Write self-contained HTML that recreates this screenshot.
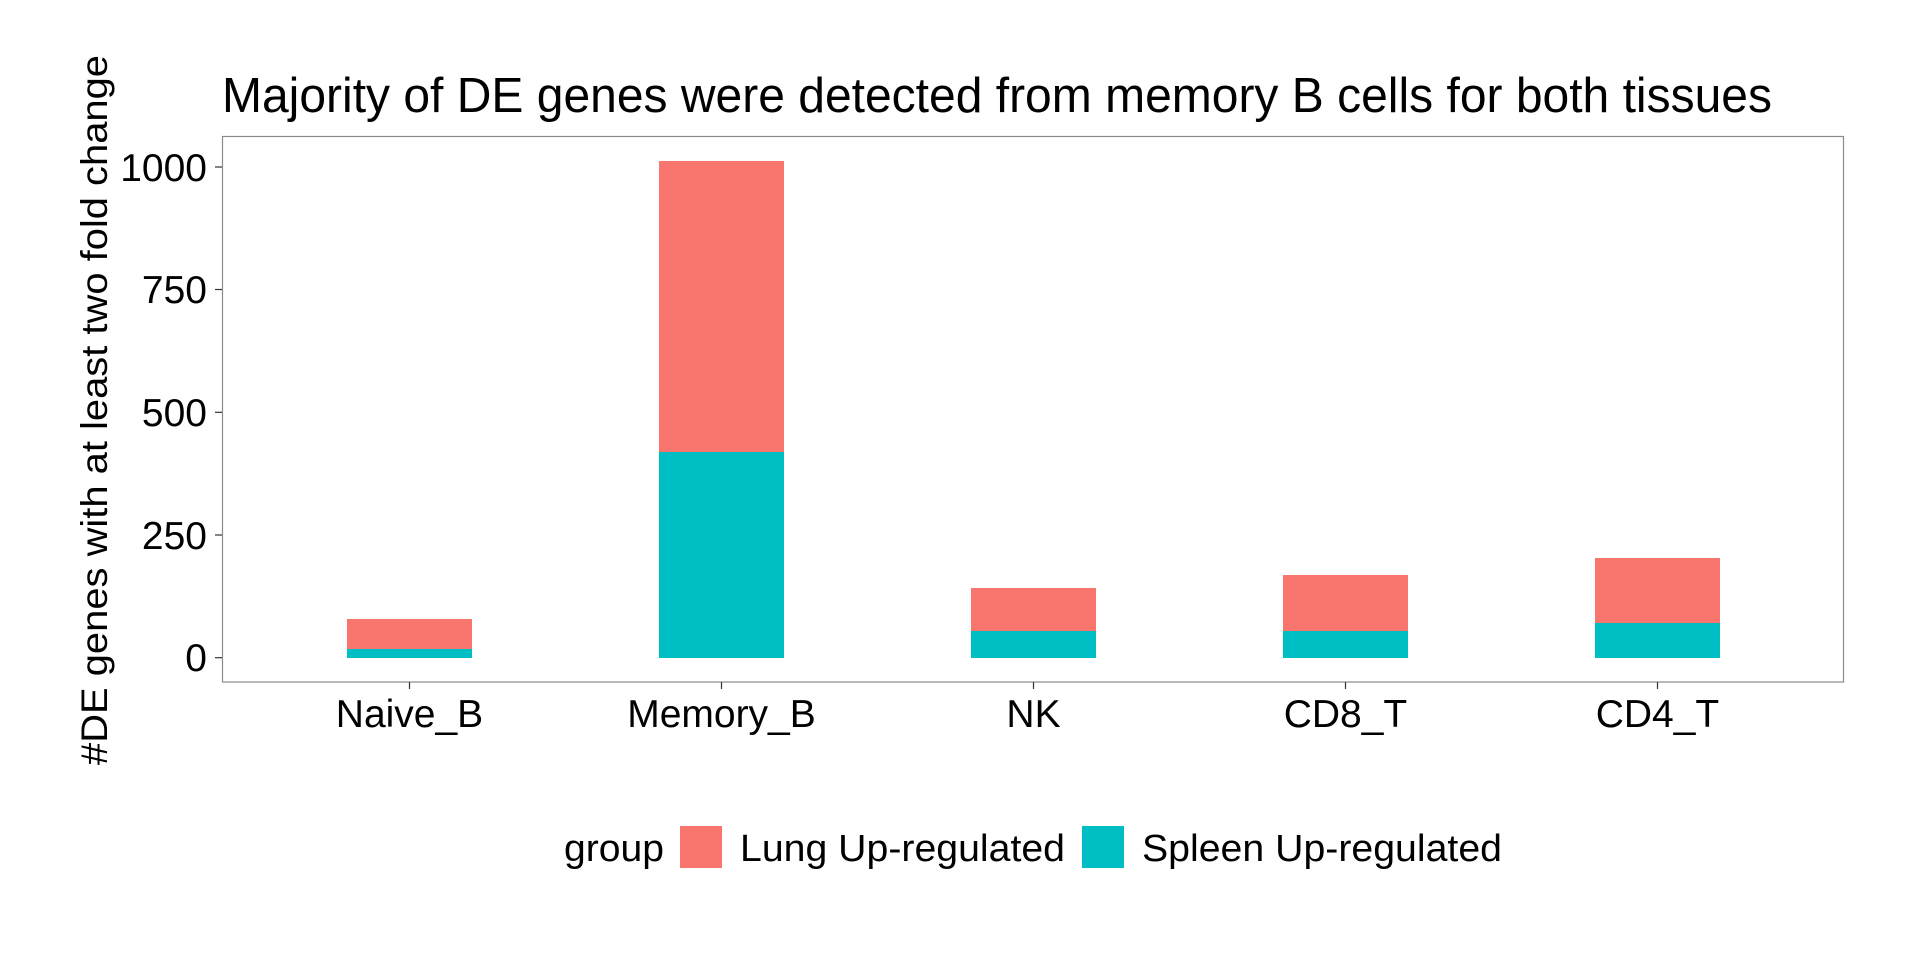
<!DOCTYPE html>
<html><head><meta charset="utf-8"><style>
html,body{margin:0;padding:0;background:#fff;}
svg{display:block;}
text{font-family:"Liberation Sans",sans-serif;fill:#000;}
</style></head><body>
<svg width="1920" height="960" viewBox="0 0 1920 960" xmlns="http://www.w3.org/2000/svg">
<rect width="1920" height="960" fill="#fff"/>
<text x="222" y="112" font-size="49" textLength="1550" lengthAdjust="spacingAndGlyphs">Majority of DE genes were detected from memory B cells for both tissues</text>
<text transform="translate(107,410) rotate(-90)" text-anchor="middle" font-size="37" textLength="710" lengthAdjust="spacingAndGlyphs">#DE genes with at least two fold change</text>
<rect x="347" y="619" width="125" height="39" fill="#F8766D"/>
<rect x="347" y="649" width="125" height="9" fill="#00BFC4"/>
<rect x="659" y="161" width="125" height="497" fill="#F8766D"/>
<rect x="659" y="452" width="125" height="206" fill="#00BFC4"/>
<rect x="971" y="588" width="125" height="70" fill="#F8766D"/>
<rect x="971" y="631" width="125" height="27" fill="#00BFC4"/>
<rect x="1283" y="575" width="125" height="83" fill="#F8766D"/>
<rect x="1283" y="631" width="125" height="27" fill="#00BFC4"/>
<rect x="1595" y="558" width="125" height="100" fill="#F8766D"/>
<rect x="1595" y="623" width="125" height="35" fill="#00BFC4"/>
<rect x="222.5" y="136.5" width="1621" height="545.5" fill="none" stroke="#8a8a8a" stroke-width="1.2"/>
<g stroke="#333" stroke-width="1.2">
<line x1="215" y1="167" x2="222" y2="167"/>
<line x1="215" y1="289.5" x2="222" y2="289.5"/>
<line x1="215" y1="412.3" x2="222" y2="412.3"/>
<line x1="215" y1="535" x2="222" y2="535"/>
<line x1="215" y1="657.7" x2="222" y2="657.7"/>
<line x1="409.5" y1="682" x2="409.5" y2="689"/>
<line x1="721.5" y1="682" x2="721.5" y2="689"/>
<line x1="1033.5" y1="682" x2="1033.5" y2="689"/>
<line x1="1345.5" y1="682" x2="1345.5" y2="689"/>
<line x1="1657.5" y1="682" x2="1657.5" y2="689"/>
</g>
<g font-size="39" text-anchor="end">
<text x="207" y="181">1000</text>
<text x="207" y="303">750</text>
<text x="207" y="426">500</text>
<text x="207" y="549">250</text>
<text x="207" y="671">0</text>
</g>
<g font-size="39" text-anchor="middle">
<text x="409.5" y="727">Naive_B</text>
<text x="721.5" y="727">Memory_B</text>
<text x="1033.5" y="727">NK</text>
<text x="1345.5" y="727">CD8_T</text>
<text x="1657.5" y="727">CD4_T</text>
</g>
<text x="564" y="861" font-size="38" textLength="100" lengthAdjust="spacingAndGlyphs">group</text>
<rect x="680" y="826" width="42" height="42" fill="#F8766D"/>
<text x="740" y="861" font-size="38" textLength="325" lengthAdjust="spacingAndGlyphs">Lung Up-regulated</text>
<rect x="1082" y="826" width="42" height="42" fill="#00BFC4"/>
<text x="1142" y="861" font-size="38" textLength="360" lengthAdjust="spacingAndGlyphs">Spleen Up-regulated</text>
</svg>
</body></html>
